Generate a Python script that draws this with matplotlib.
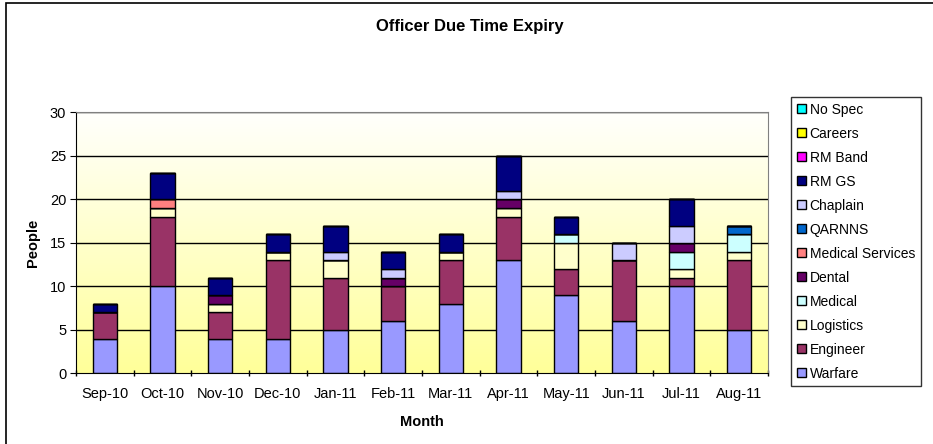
import numpy as np
import matplotlib.pyplot as plt
from matplotlib.patches import Rectangle, Patch

plt.rcParams['font.family'] = ['Liberation Sans', 'DejaVu Sans']

months = ['Sep-10', 'Oct-10', 'Nov-10', 'Dec-10', 'Jan-11', 'Feb-11',
          'Mar-11', 'Apr-11', 'May-11', 'Jun-11', 'Jul-11', 'Aug-11']

# stacking order, bottom to top
warfare      = [4, 10, 4, 4, 5, 6, 8, 13, 9, 6, 10, 5]
engineer     = [3, 8, 3, 9, 6, 4, 5, 5, 3, 7, 1, 8]
logistics    = [0, 1, 1, 1, 2, 0, 1, 1, 3, 0, 1, 1]
medical      = [0, 0, 0, 0, 0, 0, 0, 0, 1, 0, 2, 2]
dental       = [0, 0, 1, 0, 0, 1, 0, 1, 0, 0, 1, 0]
med_services = [0, 1, 0, 0, 0, 0, 0, 0, 0, 0, 0, 0]
qarnns       = [0, 0, 0, 0, 0, 0, 0, 0, 0, 0, 0, 1]
chaplain     = [0, 0, 0, 0, 1, 1, 0, 1, 0, 2, 2, 0]
rm_gs        = [1, 3, 2, 2, 3, 2, 2, 4, 2, 0, 3, 0]
rm_band      = [0] * 12
careers      = [0] * 12
no_spec      = [0] * 12

series = [
    ('Warfare', warfare, '#9999FF'),
    ('Engineer', engineer, '#993366'),
    ('Logistics', logistics, '#FFFFCC'),
    ('Medical', medical, '#CCFFFF'),
    ('Dental', dental, '#660066'),
    ('Medical Services', med_services, '#FF8080'),
    ('QARNNS', qarnns, '#0066CC'),
    ('Chaplain', chaplain, '#CCCCFF'),
    ('RM GS', rm_gs, '#000080'),
    ('RM Band', rm_band, '#FF00FF'),
    ('Careers', careers, '#FFFF00'),
    ('No Spec', no_spec, '#00FFFF'),
]

fig = plt.figure(figsize=(9.33, 4.44), dpi=100)
W, H = 933, 444
ax = fig.add_axes([76 / W, 1 - 373.3 / H, (768 - 76) / W, (373.3 - 112.5) / H])

# outer chart border
fig.patches.append(Rectangle((6 / W, -0.1), 1.2, 1 - 3 / H + 0.1, transform=fig.transFigure,
                             fill=False, edgecolor='black', linewidth=1.2))

x = np.arange(len(months))
ax.set_xlim(-0.5, len(months) - 0.5)
ax.set_ylim(0, 30)

# gradient background
grad = np.linspace(0, 1, 256).reshape(-1, 1)
c_bot = np.array([1.0, 1.0, 0.6])
c_top = np.array([1.0, 1.0, 0.99])
img = c_bot + (c_top - c_bot) * grad
ax.imshow(img[:, None, :].repeat(2, axis=1), extent=[-0.5, len(months) - 0.5, 0, 30],
          origin='lower', aspect='auto', zorder=0)

for yv in range(5, 31, 5):
    ax.axhline(yv, color='black', linewidth=1, zorder=1)

bottom = np.zeros(len(months))
for name, vals, col in series:
    vals = np.array(vals, dtype=float)
    ax.bar(x, vals, width=0.42, bottom=bottom, color=col, edgecolor='black',
           linewidth=1, zorder=2)
    bottom += vals

ax.set_xticks(x)
ax.set_xticklabels(months, fontsize=10.5)
ax.set_xticks(np.arange(-0.5, len(months)), minor=True)
ax.tick_params(axis='x', which='major', length=0, pad=10)
ax.tick_params(axis='x', which='minor', length=5, direction='inout', width=1)
ax.set_yticks(range(0, 31, 5))
ax.tick_params(axis='y', length=4, direction='out', labelsize=10.5, pad=3)

for s in ['top', 'right']:
    ax.spines[s].set_color('#808080')
for s in ['left', 'bottom']:
    ax.spines[s].set_color('black')

ax.set_xlabel('Month', fontsize=10.5, fontweight='bold', labelpad=10)
ax.set_ylabel('People', fontsize=10.5, fontweight='bold', labelpad=7)
fig.text(470 / W, 1 - 27 / H, 'Officer Due Time Expiry', ha='center', va='center',
         fontsize=12, fontweight='bold')

handles = [Patch(facecolor=col, edgecolor='black', linewidth=1, label=name)
           for name, vals, col in series[::-1]]
leg = fig.legend(handles=handles, loc='upper left',
                 bbox_to_anchor=(791 / W, 1 - 97 / H), fontsize=10,
                 frameon=True, fancybox=False, edgecolor='black',
                 handlelength=0.65, handleheight=0.65, handletextpad=0.3,
                 labelspacing=0.72, borderpad=0.4, borderaxespad=0)
leg.get_frame().set_linewidth(1)

fig.savefig('out.png', dpi=100, facecolor='white')
